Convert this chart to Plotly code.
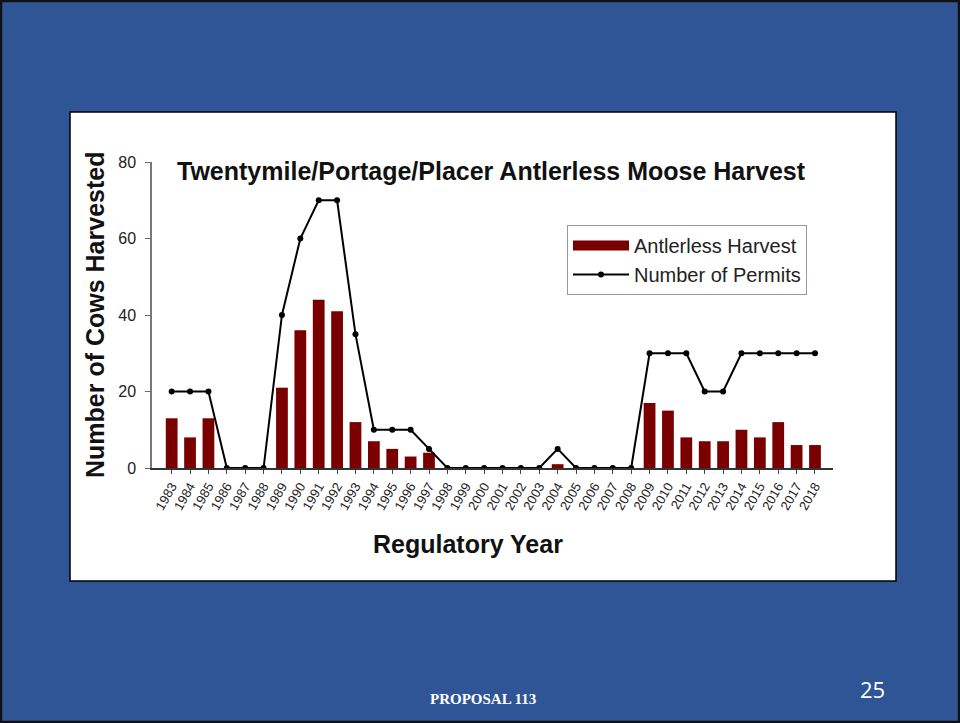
import plotly.graph_objects as go

years = [str(y) for y in range(1983, 2019)]
harvest = [13, 8, 13, 0, 0, 0, 21, 36, 44, 41, 12, 7, 5, 3, 4,
           0, 0, 0, 0, 0, 0, 1, 0, 0, 0, 0,
           17, 15, 8, 7, 7, 10, 8, 12, 6, 6]
permits = [20, 20, 20, 0, 0, 0, 40, 60, 70, 70, 35, 10, 10, 10, 5,
           0, 0, 0, 0, 0, 0, 5, 0, 0, 0, 0,
           30, 30, 30, 20, 20, 30, 30, 30, 30, 30]
y_ticks = [0, 20, 40, 60, 80]

W, H = 960, 723
idx = list(range(len(years)))
BAR_COLOR = "#7a0000"

fig = go.Figure()
fig.add_trace(go.Bar(x=idx, y=harvest, name="Antlerless Harvest", showlegend=False,
                     marker=dict(color=BAR_COLOR, line=dict(width=0)), width=0.64))
# legend proxy for the bar series (wide swatch like the original)
fig.add_trace(go.Scatter(x=[None], y=[None], name="Antlerless Harvest", mode="lines",
                         line=dict(color=BAR_COLOR, width=10), hoverinfo="skip"))
fig.add_trace(go.Scatter(x=idx, y=permits, name="Number of Permits", mode="lines+markers",
                         line=dict(color="black", width=2),
                         marker=dict(color="black", size=6)))

def px(x): return x / W
def py(y): return 1 - y / H

fig.update_layout(
    width=W, height=H, autosize=False,
    margin=dict(l=0, r=0, t=0, b=0, pad=0, autoexpand=False),
    paper_bgcolor="#2f5597", plot_bgcolor="white",
    font=dict(family="Liberation Sans, Arial", color="black"),
    xaxis=dict(domain=[px(152), px(833)], range=[-1.07, 35.98],
               tickmode="array", tickvals=idx, ticktext=years, tickangle=-60,
               tickfont=dict(size=13, color="#222"), ticks="outside", ticklen=4,
               tickcolor="#444", showline=True, linecolor="#333", linewidth=1.5,
               showgrid=False, zeroline=False, automargin=False),
    yaxis=dict(domain=[py(468), py(162)], range=[0, 80],
               tickvals=y_ticks, tickfont=dict(size=16, color="#222"),
               ticks="outside", ticklen=5, tickcolor="#666", ticklabelstandoff=6,
               showline=True, linecolor="#777", linewidth=1.5,
               showgrid=False, zeroline=False, automargin=False),
    legend=dict(x=px(567), y=py(225), xanchor="left", yanchor="top",
                bgcolor="white", bordercolor="#999", borderwidth=1,
                font=dict(size=20, color="#222"), itemwidth=56,
                tracegroupgap=0),
    showlegend=True,
    bargap=0.36,
)

shapes = [
    dict(type="rect", xref="paper", yref="paper", x0=px(70), x1=px(896), y0=py(581), y1=py(112),
         fillcolor="white", line=dict(color="black", width=1.5), layer="below"),
    dict(type="rect", xref="paper", yref="paper", x0=px(1), x1=px(959), y0=py(722), y1=py(1),
         fillcolor="rgba(0,0,0,0)", line=dict(color="#111", width=2.5), layer="above"),
]
fig.update_layout(shapes=shapes)

def ann(text, x, y, size, color="#111", family=None, angle=0):
    f = dict(size=size, color=color)
    if family:
        f["family"] = family
    return dict(text=text, x=px(x), y=py(y), xref="paper", yref="paper",
                xanchor="center", yanchor="middle", showarrow=False,
                textangle=angle, font=f)

annotations = [
    ann("<b>Twentymile/Portage/Placer Antlerless Moose Harvest</b>", 492, 171, 25),
    ann("<b>Number of Cows Harvested</b>", 95, 315, 25, angle=-90),
    ann("<b>Regulatory Year</b>", 468, 544, 25),
    ann("<b>PROPOSAL 113</b>", 483, 699, 15, color="white",
        family="Liberation Serif, Times New Roman"),
    ann("25", 872, 689, 22, color="white", family="Open Sans, Liberation Sans"),
]
fig.update_layout(annotations=annotations)

fig.write_html("out.html", config={"displayModeBar": False},
               post_script="document.body.style.margin='0';document.body.style.padding='0';"
                           "document.body.style.overflow='hidden';"
                           "document.documentElement.style.overflow='hidden';")
